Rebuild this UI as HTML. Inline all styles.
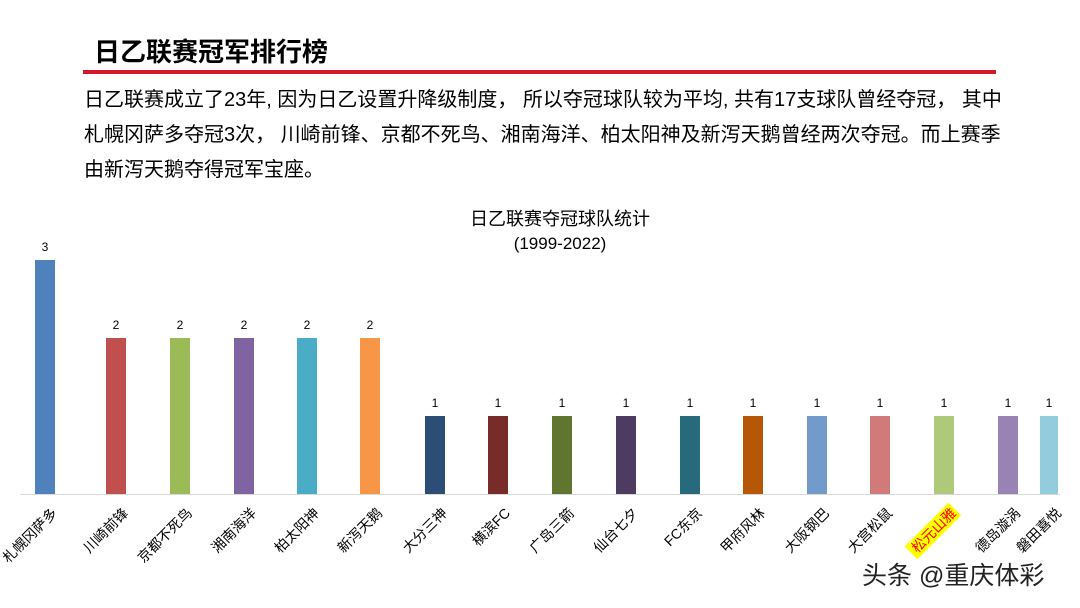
<!DOCTYPE html>
<html><head><meta charset="utf-8">
<style>
body{margin:0;width:1080px;height:608px;background:#fff;overflow:hidden;font-family:"Liberation Sans","Noto Sans CJK SC",sans-serif;position:relative}
#title{position:absolute;left:94px;top:32px;font-size:26px;font-weight:bold;color:#000}
#rule{position:absolute;left:83px;top:70px;width:913px;height:4px;background:#d7182a}
#para{position:absolute;left:84px;top:83px;width:960px;font-size:20px;line-height:35px;color:#000;white-space:nowrap}
#wm{position:absolute;left:862px;top:556px;font-size:25px;color:#222}
</style></head><body>
<div id="title">日乙联赛冠军排行榜</div>
<div id="rule"></div>
<div id="para">日乙联赛成立了23年, 因为日乙设置升降级制度， 所以夺冠球队较为平均, 共有17支球队曾经夺冠， 其中<br>札幌冈萨多夺冠3次， 川崎前锋、京都不死鸟、湘南海洋、柏太阳神及新泻天鹅曾经两次夺冠。而上赛季<br>由新泻天鹅夺得冠军宝座。</div>
<svg id="chart" width="1080" height="608" style="position:absolute;left:0;top:0">
<text x="560" y="225" text-anchor="middle" font-size="18" fill="#000">日乙联赛夺冠球队统计</text>
<text x="560" y="249" text-anchor="middle" font-size="17" fill="#000">(1999-2022)</text>
<line x1="20" y1="494.5" x2="1060" y2="494.5" stroke="#d9d9d9"/>
<g id="bars"></g>
</svg>
<div id="wm">头条 @重庆体彩</div>
<script>
const teams=["札幌冈萨多","川崎前锋","京都不死鸟","湘南海洋","柏太阳神","新泻天鹅","大分三神","横滨FC","广岛三箭","仙台七夕","FC东京","甲府风林","大阪钢巴","大宫松鼠","松元山雅","德岛漩涡","磐田喜悦"];
const titles=[3,2,2,2,2,2,1,1,1,1,1,1,1,1,1,1,1];
const colors=["#4F81BD","#C0504D","#9BBB59","#8064A2","#4BACC6","#F79646","#2C4D75","#772C2A","#5F7530","#4D3B62","#276A7C","#B65708","#729ACA","#D07B79","#AFC97A","#9983B5","#93CDDD"];
const centers=[45,116,180,244,307,370,435,498,562,626,690,753,817,880,944,1008,1049];
const base=494,unit=78;
const yScale=v=>base-v*unit;
const g=document.getElementById('bars');
const NS="http://www.w3.org/2000/svg";
teams.forEach((t,i)=>{
  const cx=centers[i];const w=i===16?18:20;
  const r=document.createElementNS(NS,'rect');
  r.setAttribute('x',cx-w/2);r.setAttribute('y',yScale(titles[i]));
  r.setAttribute('width',w);r.setAttribute('height',base-yScale(titles[i]));
  r.setAttribute('fill',colors[i]);
  
  
  g.appendChild(r);
  const v=document.createElementNS(NS,'text');
  v.setAttribute('x',cx);v.setAttribute('y',yScale(titles[i])-9);
  v.setAttribute('text-anchor','middle');v.setAttribute('font-size','12');
  v.textContent=titles[i];
  
  
  g.appendChild(v);
  const lx=cx+13,ly=514;
  if(t==="松元山雅"){
    const hl=document.createElementNS(NS,'rect');
    hl.setAttribute('x',lx-60);hl.setAttribute('y',ly-14);hl.setAttribute('width',62);hl.setAttribute('height',18);
    hl.setAttribute('fill','#ffff00');
    hl.setAttribute('transform','rotate(-45 '+lx+' '+ly+')');
    
    
    g.appendChild(hl);
  }
  const l=document.createElementNS(NS,'text');
  l.setAttribute('x',lx);l.setAttribute('y',ly);
  l.setAttribute('text-anchor','end');l.setAttribute('font-size','14');
  l.setAttribute('fill',t==="松元山雅"?'#ff0000':'#000');
  l.setAttribute('transform','rotate(-45 '+lx+' '+ly+')');
  l.textContent=t;
  
  
  g.appendChild(l);
});
</script>
</body></html>
